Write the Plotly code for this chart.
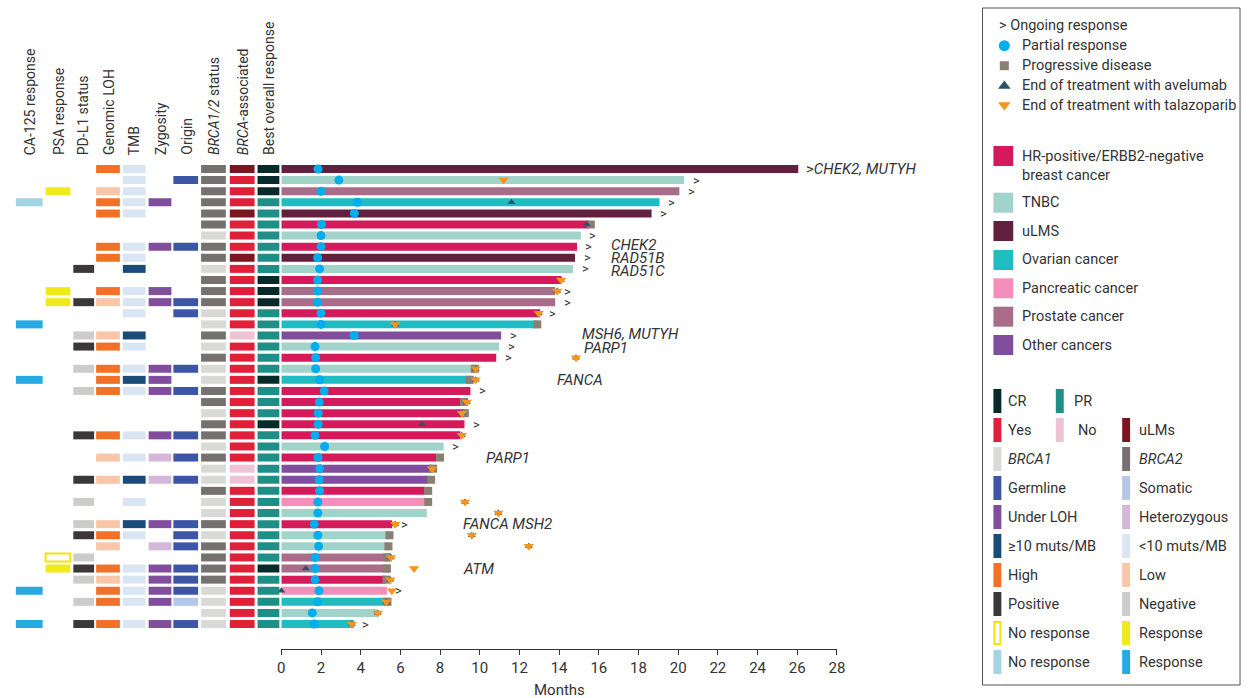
import plotly.graph_objects as go

W, H = 1252, 698
FONT = "Roboto"
TXT = "#333333"

# ---------------- data ----------------
rows = list(range(1, 43))
tumor = ["uLMS", "TNBC", "Prostate", "Ovarian", "uLMS", "HR", "TNBC", "HR", "uLMS", "TNBC",
         "HR", "Prostate", "Prostate", "HR", "Ovarian", "Other", "TNBC", "HR", "TNBC", "Ovarian",
         "HR", "HR", "HR", "HR", "HR", "TNBC", "HR", "Other", "Other", "HR",
         "Pancreatic", "TNBC", "HR", "TNBC", "TNBC", "Prostate", "Prostate", "HR", "Pancreatic", "Ovarian",
         "TNBC", "Ovarian"]
duration = [26.05, 20.3, 20.06, 19.06, 18.66, 15.5, 15.1, 14.9, 14.8, 14.7,
            14.1, 13.8, 13.8, 13.05, 12.9, 11.08, 10.98, 10.83, 9.88, 9.58,
            9.53, 9.35, 9.25, 9.23, 9.03, 8.18, 7.8, 7.6, 7.4, 7.23,
            7.23, 7.33, 5.59, 5.49, 5.49, 5.49, 5.49, 5.25, 5.32, 5.49,
            4.82, 3.66]
pr_time = [1.85, 2.9, 2.0, 3.83, 3.68, 2.03, 2.0, 2.0, 1.83, 1.93,
           1.83, 1.83, 1.83, 2.0, 2.0, 3.67, 1.7, 1.73, 1.73, 1.93,
           2.16, 1.91, 1.86, 1.86, 1.7, 2.18, 1.85, 1.93, 1.91, 1.93,
           1.84, 1.84, 1.66, 1.84, 1.88, 1.7, 1.7, 1.7, 1.9, 1.83,
           1.56, 1.66]
N = None
pd_time = [N, N, N, N, N, 15.6, N, N, N, N,
           N, N, N, N, 12.9, N, N, N, 9.75, 9.5,
           N, 9.2, 9.25, N, N, N, 8.0, 7.65, 7.55, 7.4,
           7.4, N, N, 5.45, 5.4, 5.35, 5.32, 5.3, N, 5.35,
           N, N]
ave_end = [N, N, N, 11.6, N, 15.4, N, N, N, N,
           14.1, 13.9, N, 12.97, 5.74, N, N, 14.85, 9.8, 9.8,
           N, 9.35, 9.1, 7.1, 9.1, N, N, N, N, N,
           9.26, 10.94, 5.74, 9.6, 12.47, 5.52, 1.23, 5.49, 0.0, 5.29,
           4.86, 3.55]
tal_end = [N, 11.2, N, N, N, N, N, N, N, N,
           14.1, 13.9, N, 12.97, 5.74, N, N, 14.85, 9.8, 9.8,
           N, 9.35, 9.1, N, 9.1, N, N, 7.6, N, N,
           9.26, 10.94, 5.74, 9.6, 12.47, 5.52, 6.69, 5.49, 5.57, 5.29,
           4.86, 3.55]
ongoing = [0, 1, 1, 1, 1, 0, 1, 1, 1, 1,
           0, 1, 1, 1, 0, 1, 1, 1, 0, 0,
           1, 0, 0, 1, 0, 1, 0, 0, 0, 0,
           0, 0, 1, 0, 0, 0, 0, 0, 1, 0,
           0, 1]

ca125 = [N] * 42
for r, v in [(4, "No"), (15, "Yes"), (20, "Yes"), (39, "Yes"), (42, "Yes")]:
    ca125[r - 1] = v
psa = [N] * 42
for r, v in [(3, "Yes"), (12, "Yes"), (13, "Yes"), (36, "No"), (37, "Yes")]:
    psa[r - 1] = v
pdl1 = [N] * 42
for r, v in [(10, "Pos"), (13, "Pos"), (16, "Neg"), (17, "Pos"), (19, "Neg"), (21, "Neg"),
             (25, "Pos"), (29, "Pos"), (31, "Neg"), (33, "Neg"), (34, "Pos"), (36, "Neg"),
             (37, "Pos"), (38, "Neg"), (40, "Neg"), (42, "Pos")]:
    pdl1[r - 1] = v
loh = [N] * 42
for r, v in [(1, "High"), (3, "Low"), (4, "High"), (5, "High"), (8, "High"), (9, "High"),
             (12, "High"), (13, "Low"), (16, "Low"), (17, "High"), (19, "High"), (20, "High"),
             (21, "High"), (25, "High"), (27, "Low"), (29, "Low"), (33, "Low"), (34, "High"),
             (35, "Low"), (37, "High"), (38, "Low"), (39, "High"), (40, "High"), (42, "High")]:
    loh[r - 1] = v
tmb = [N] * 42
for r, v in [(1, "lo"), (2, "lo"), (3, "lo"), (4, "lo"), (5, "lo"), (8, "lo"), (9, "lo"),
             (10, "hi"), (12, "lo"), (13, "lo"), (14, "lo"), (16, "hi"), (17, "lo"), (19, "lo"),
             (20, "hi"), (21, "lo"), (25, "lo"), (27, "lo"), (29, "hi"), (31, "lo"), (33, "hi"),
             (34, "lo"), (37, "lo"), (38, "lo"), (39, "lo"), (40, "lo"), (42, "lo")]:
    tmb[r - 1] = v
zyg = [N] * 42
for r, v in [(4, "LOH"), (8, "LOH"), (12, "LOH"), (13, "LOH"), (19, "LOH"), (20, "LOH"),
             (21, "LOH"), (25, "LOH"), (27, "Het"), (29, "Het"), (33, "LOH"), (35, "Het"),
             (37, "LOH"), (38, "LOH"), (39, "LOH"), (40, "LOH"), (42, "LOH")]:
    zyg[r - 1] = v
origin = [N] * 42
for r in [2, 8, 13, 14, 19, 21, 25, 27, 29, 33, 34, 35, 37, 38, 39, 42]:
    origin[r - 1] = "Germline"
origin[40 - 1] = "Somatic"
brca = [2, 2, 2, 2, 2, 2, 1, 2, 2, 1,
        2, 2, 2, 1, 1, 2, 1, 2, 1, 1,
        2, 2, 1, 2, 2, 1, 2, 1, 1, 2,
        1, 1, 2, 1, 2, 2, 2, 2, 1, 1,
        1, 1]
assoc = ["Yes"] * 42
for r in [1, 5, 9]:
    assoc[r - 1] = "uLMs"
for r in [16, 28, 29]:
    assoc[r - 1] = "No"
bor = ["PR"] * 42
for r in [1, 2, 3, 11, 12, 13, 20, 24, 37]:
    bor[r - 1] = "CR"

gene_rows = [1, 8, 9, 10, 16, 17, 20, 27, 33, 37]
gene_x = [26.35, 16.5, 16.5, 16.5, 15.07, 15.17, 13.8, 10.2, 9.08, 9.08]
gene_text = [">CHEK2, MUTYH", "CHEK2", "RAD51B", "RAD51C", "MSH6, MUTYH", "PARP1",
             "FANCA", "PARP1", "FANCA MSH2", "ATM"]
gene_shift = [0, 2, 0, -2, 1, -1, 0, 0, 0, 0]

x_ticks = list(range(0, 29, 2))
col_headers = ["CA-125 response", "PSA response", "PD-L1 status", "Genomic LOH", "TMB",
               "Zygosity", "Origin", "<i>BRCA1/2</i> status", "<i>BRCA</i>-associated",
               "Best overall response"]

# ---------------- styles ----------------
tumor_colors = {"HR": "#D41A5B", "TNBC": "#A2D3CB", "uLMS": "#62203F", "Ovarian": "#1FBDC1",
                "Pancreatic": "#F48FBB", "Prostate": "#A96D89", "Other": "#814E9E"}
C_PR, C_PD, C_AVE, C_TAL = "#00AEEF", "#8B7F72", "#2D5466", "#F7941D"

col_px = [(12, 39), (42, 67), (70, 91), (93, 117), (120, 143), (146, 169), (171, 196),
          (199, 224), (228, 253), (256, 278)]
col_hdr_x = [26, 55, 80, 106, 131, 158, 184, 212, 241, 267]
col_data = [ca125, psa, pdl1, loh, tmb, zyg, origin, brca, assoc, bor]
col_maps = [
    {"No": "#A3D4E3", "Yes": "#26AAE1"},
    {"No": "#FFFFFF", "Yes": "#F2EA18"},
    {"Pos": "#3A3839", "Neg": "#CCCCCB"},
    {"High": "#F37027", "Low": "#F9C6A8"},
    {"hi": "#1B4B79", "lo": "#DAE5F3"},
    {"LOH": "#814E9E", "Het": "#D5B8D9"},
    {"Germline": "#3D55A5", "Somatic": "#B4C7E7"},
    {1: "#D9D9D7", 2: "#757170"},
    {"Yes": "#E01F38", "No": "#EFC3D3", "uLMs": "#7B1520"},
    {"CR": "#062B2A", "PR": "#1E8F86"},
]

BAR_W = 0.72
Y_TOP_PX, Y_BOT_PX = 163.45, 649.0
X0_PX, X28_PX = 280.0, 841.0
LEG_FS = 14.5

fig = go.Figure()

for ci, (vals, cmap, (lft, rgt)) in enumerate(zip(col_data, col_maps, col_px)):
    ys, cs, lcs, lws = [], [], [], []
    for r, v in zip(rows, vals):
        if v is None:
            continue
        ys.append(r)
        cs.append(cmap[v])
        if ci == 1 and v == "No":
            lcs.append("#F2E30F")
            lws.append(2)
        else:
            lcs.append(cmap[v])
            lws.append(0)
    fig.add_trace(go.Bar(x=[rgt - lft] * len(ys), base=[lft] * len(ys), y=ys, orientation="h",
                         width=BAR_W, marker=dict(color=cs, line=dict(color=lcs, width=lws)),
                         xaxis="x2", yaxis="y", hoverinfo="skip", showlegend=False))

fig.add_trace(go.Bar(x=duration, y=rows, orientation="h", width=BAR_W,
                     marker=dict(color=[tumor_colors[t] for t in tumor], line=dict(width=0)),
                     xaxis="x", yaxis="y", showlegend=False))


def pts(vals):
    xs, ys = [], []
    for r, v in zip(rows, vals):
        if v is not None:
            xs.append(v)
            ys.append(r)
    return xs, ys


for vals, sym, col, size in [(pr_time, "circle", C_PR, 9), (pd_time, "square", C_PD, 8),
                             (ave_end, "triangle-up", C_AVE, 7), (tal_end, "triangle-down", C_TAL, 9)]:
    xs, ys = pts(vals)
    fig.add_trace(go.Scatter(x=xs, y=ys, mode="markers", cliponaxis=False,
                             marker=dict(symbol=sym, color=col, size=size, line=dict(width=0)),
                             xaxis="x", yaxis="y", showlegend=False))

annotations = []
for r, d, o in zip(rows, duration, ongoing):
    if o:
        annotations.append(dict(x=d, y=r, xref="x", yref="y", text=">", showarrow=False,
                                xanchor="center", yanchor="middle", xshift=12,
                                font=dict(family=FONT, size=13, color=TXT)))
for r, gx, gt, gs in zip(gene_rows, gene_x, gene_text, gene_shift):
    if gt.startswith(">"):
        t = ">" + "<i>" + gt[1:] + "</i>"
    else:
        t = "<i>" + gt + "</i>"
    annotations.append(dict(x=gx, y=r, xref="x", yref="y", text=t, showarrow=False,
                            xanchor="left", yanchor="middle", yshift=gs,
                            font=dict(family=FONT, size=15, color=TXT)))
for hx, ht in zip(col_hdr_x, col_headers):
    annotations.append(dict(x=hx / W, y=1 - 157 / H, xref="paper", yref="paper", text=ht,
                            textangle=-90, showarrow=False, xanchor="center", yanchor="bottom",
                            font=dict(family=FONT, size=14, color=TXT)))
annotations.append(dict(x=(X0_PX + X28_PX) / 2 / W, y=1 - 690 / H, xref="paper", yref="paper",
                        text="Months", showarrow=False, xanchor="center", yanchor="middle",
                        font=dict(family=FONT, size=15, color=TXT)))

shapes = []


def px_rect(x0, y0, x1, y1, fill, line_col=None, lw=0):
    shapes.append(dict(type="rect", xref="paper", yref="paper", x0=x0 / W, x1=x1 / W,
                       y0=1 - y1 / H, y1=1 - y0 / H, fillcolor=fill,
                       line=dict(color=line_col or fill, width=lw)))


def px_text(x, y, text, size=LEG_FS):
    annotations.append(dict(x=x / W, y=1 - y / H, xref="paper", yref="paper", text=text,
                            showarrow=False, xanchor="left", yanchor="middle", align="left",
                            font=dict(family=FONT, size=size, color=TXT)))


shapes.append(dict(type="rect", xref="paper", yref="paper", x0=988 / W, x1=1248 / W,
                   y0=1 - 685 / H, y1=1 - 8 / H, line=dict(color="#555555", width=1),
                   fillcolor="rgba(0,0,0,0)"))
px_text(1003, 25.7, "> Ongoing response")
leg_sym = [("Partial response", "circle", C_PR, 45.7, 11),
           ("Progressive disease", "square", C_PD, 65.7, 9),
           ("End of treatment with avelumab", "triangle-up", C_AVE, 86, 11),
           ("End of treatment with talazoparib", "triangle-down", C_TAL, 105, 11)]
for lab, sym, col, ly, sz in leg_sym:
    fig.add_trace(go.Scatter(x=[1010], y=[ly], mode="markers", xaxis="x3", yaxis="y3",
                             marker=dict(symbol=sym, color=col, size=sz, line=dict(width=0)),
                             showlegend=False, hoverinfo="skip", cliponaxis=False))
    px_text(1026, ly, lab)

tumor_leg = [("HR", "HR-positive/ERBB2-negative<br>breast cancer", 156, 165.9),
             ("TNBC", "TNBC", 202.7, 202.7), ("uLMS", "uLMS", 231, 231),
             ("Ovarian", "Ovarian cancer", 260, 260), ("Pancreatic", "Pancreatic cancer", 288.3, 288.3),
             ("Prostate", "Prostate cancer", 316.7, 316.7), ("Other", "Other cancers", 345, 345)]
for key, lab, sy, ty in tumor_leg:
    px_rect(999, sy - 10, 1019, sy + 10, tumor_colors[key])
    px_text(1026, ty, lab)

leg_rows_y = [401, 430, 459, 488, 517, 546, 575, 604, 633, 662]
sw_x = [999, 1062, 1129]
tx_x = [1012, 1078, 1144]
leg_items = [
    [("CR", "#062B2A"), ("PR", "#1E8F86"), None],
    [("Yes", "#E01F38"), ("No", "#EFC3D3"), ("uLMs", "#7B1520")],
    [("<i>BRCA1</i>", "#D9D9D7"), None, ("<i>BRCA2</i>", "#757170")],
    [("Germline", "#3D55A5"), None, ("Somatic", "#B4C7E7")],
    [("Under LOH", "#814E9E"), None, ("Heterozygous", "#D5B8D9")],
    [("≥10 muts/MB", "#1B4B79"), None, ("&lt;10 muts/MB", "#DAE5F3")],
    [("High", "#F37027"), None, ("Low", "#F9C6A8")],
    [("Positive", "#3A3839"), None, ("Negative", "#CCCCCB")],
    [("No response", "OUTLINE"), None, ("Response", "#F2EA18")],
    [("No response", "#A3D4E3"), None, ("Response", "#26AAE1")],
]
for ly, items in zip(leg_rows_y, leg_items):
    for ci, it in enumerate(items):
        if it is None:
            continue
        lab, col = it
        if col == "OUTLINE":
            px_rect(sw_x[ci] + 1, ly - 11, sw_x[ci] + 7, ly + 11, "#FFFFFF", "#F2E30F", 2)
        else:
            px_rect(sw_x[ci], ly - 12, sw_x[ci] + 8, ly + 12, col)
        tx = tx_x[ci] + (4 if (ci == 1 and lab == "No") else 0)
        px_text(tx, ly, lab)

fig.update_layout(
    width=W, height=H, autosize=False,
    margin=dict(l=0, r=0, t=0, b=0),
    paper_bgcolor="white", plot_bgcolor="rgba(0,0,0,0)",
    barmode="overlay", showlegend=False,
    font=dict(family=FONT, size=14, color=TXT),
    xaxis=dict(domain=[X0_PX / W, X28_PX / W], range=[0, 28], anchor="y",
               tickvals=x_ticks, ticktext=[str(t) for t in x_ticks],
               showgrid=False, zeroline=False, showline=True, linecolor=TXT, linewidth=1,
               ticks="outside", ticklen=5, tickcolor=TXT, tickwidth=1,
               tickfont=dict(family=FONT, size=15, color=TXT)),
    xaxis2=dict(domain=[0, X0_PX / W], range=[0, X0_PX], anchor="y", visible=False),
    yaxis=dict(domain=[1 - Y_BOT_PX / H, 1 - Y_TOP_PX / H], range=[44.25, 0.5],
               showgrid=False, zeroline=False, showticklabels=False, showline=False, ticks=""),
    xaxis3=dict(domain=[0, 1], range=[0, W], anchor="y3", visible=False),
    yaxis3=dict(domain=[0, 1], range=[H, 0], anchor="x3", visible=False),
    annotations=annotations, shapes=shapes,
)

fig.write_html("out.html",
               post_script="document.documentElement.style.overflow='hidden';"
                           "document.body.style.margin='0';document.body.style.overflow='hidden';")
